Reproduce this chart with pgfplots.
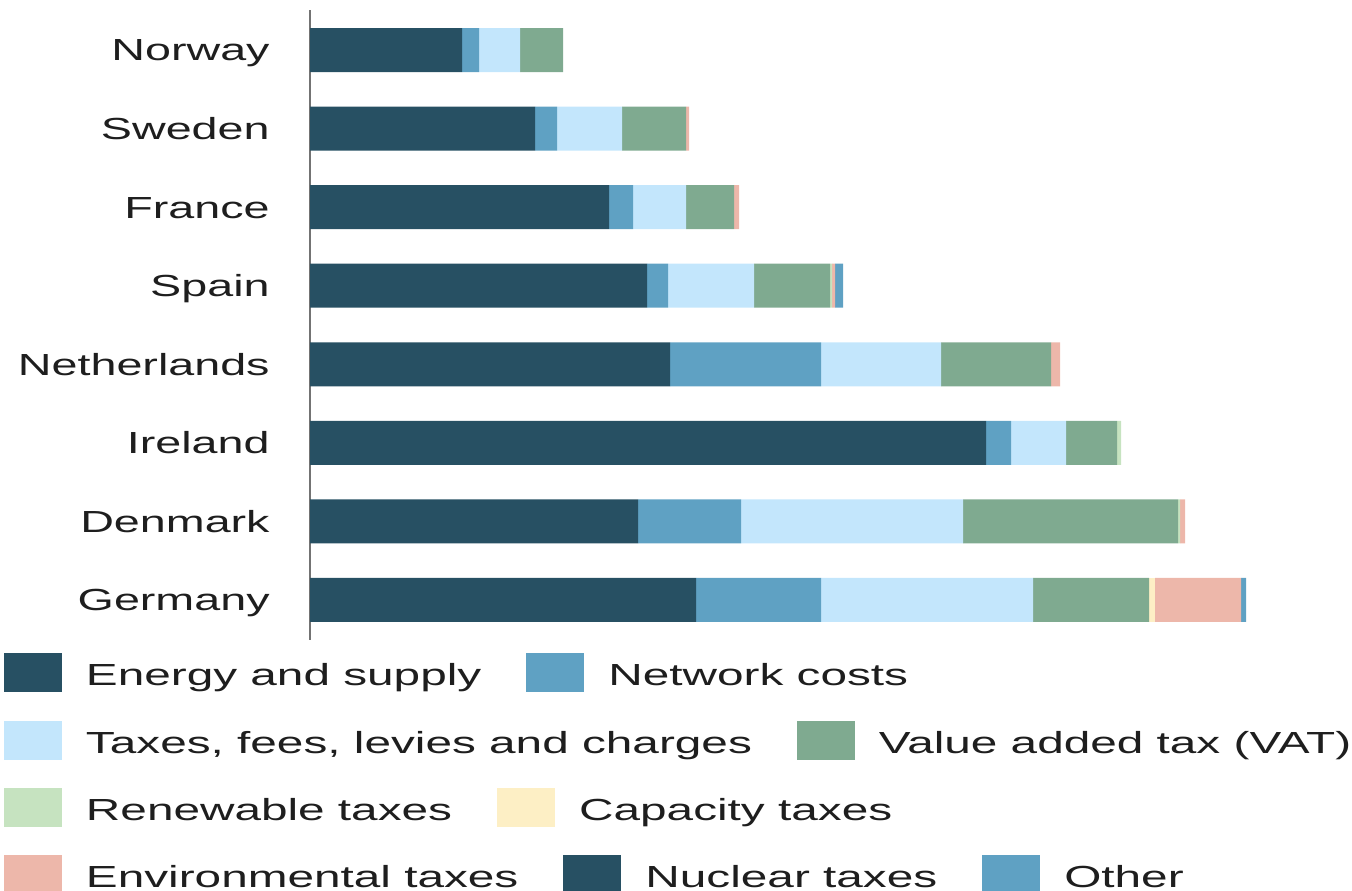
\documentclass[border=0pt]{standalone}
\usepackage{pgfplots}
\usepackage{pgfplotstable}
\pgfplotsset{compat=1.18}
\usepackage{fontspec}
\setmainfont[FakeStretch=1.53]{Liberation Sans}
\newfontfamily\legfont[FakeStretch=1.565]{Liberation Sans}
\definecolor{cE}{HTML}{275063}
\definecolor{cN}{HTML}{5FA1C3}
\definecolor{cT}{HTML}{C3E6FC}
\definecolor{cV}{HTML}{7FAA90}
\definecolor{cR}{HTML}{C6E3C0}
\definecolor{cC}{HTML}{FDEFC5}
\definecolor{cEnv}{HTML}{EDB7AA}
\definecolor{cNu}{HTML}{275063}
\definecolor{cO}{HTML}{5FA1C3}
\definecolor{txt}{HTML}{1E1E1E}
\pgfplotstableread{
y E N T V R C Env Nu O
0 152 17 41 43 0 0 0 0 0
1 225 22 65 64 0 0 3 0 0
2 299 24 53 48 0 0 5 0 0
3 337 21 86 76 2 0 3 0 8
4 360 151 120 110 0 0 9 0 0
5 676 25 55 51 4 0 0 0 0
6 328 103 222 215 2 0 5 0 0
7 386 125 212 116 0 6 86 0 5
}\data
\pgfplotsset{legrow/.style={hide axis, scale only axis, width=1pt, height=1pt,
  xmin=0,xmax=1,ymin=0,ymax=1, anchor=south west, legend columns=-1,
  legend style={at={(0,0)}, anchor=west, draw=none, fill=none, inner sep=0pt, outer sep=0pt,
    font=\legfont\fontsize{15.25}{18}\selectfont, text=txt,
    nodes={inner sep=0pt, outer sep=0pt},
    /tikz/every odd column/.append style={column sep=12pt},
    /tikz/every even column/.append style={column sep=22.5pt}},
  legend image code/.code={\fill[##1, draw=none] (0pt,-8pt) rectangle (29pt,11.5pt);}}}
\begin{document}
\begin{tikzpicture}
\path[use as bounding box] (0,0) rectangle (676pt,-445pt);
\clip (0,0) rectangle (676pt,-445pt);
\begin{axis}[
 at={(155pt,-320pt)}, anchor=south west,
 scale only axis, width=470pt, height=315pt,
 xbar stacked, bar width=22pt,
 xmin=0, xmax=940, ymin=-0.51, ymax=7.51, y dir=reverse,
 axis x line=none, axis y line*=left,
 axis line style={draw=black!55, line width=1.2pt},
 ytick={0,...,7},
 yticklabels={Norway,Sweden,France,Spain,Netherlands,Ireland,Denmark,Germany},
 major tick length=0pt,
 yticklabel style={font=\fontsize{15.25}{18}\selectfont, anchor=base east, inner sep=0pt,
   xshift=-20pt, yshift=-5.45pt, text=txt},
 clip=false,
]
\addplot[fill=cE, draw=none] table[x=E, y=y]{\data};
\addplot[fill=cN, draw=none] table[x=N, y=y]{\data};
\addplot[fill=cT, draw=none] table[x=T, y=y]{\data};
\addplot[fill=cV, draw=none] table[x=V, y=y]{\data};
\addplot[fill=cR, draw=none] table[x=R, y=y]{\data};
\addplot[fill=cC, draw=none] table[x=C, y=y]{\data};
\addplot[fill=cEnv, draw=none] table[x=Env, y=y]{\data};
\addplot[fill=cNu, draw=none] table[x=Nu, y=y]{\data};
\addplot[fill=cO, draw=none] table[x=O, y=y]{\data};
\end{axis}
\begin{axis}[legrow, at={(2pt,-336.25pt)}]
\addlegendimage{fill=cE}\addlegendentry{Energy and supply}
\addlegendimage{fill=cN}\addlegendentry{Network costs}
\end{axis}
\begin{axis}[legrow, at={(2pt,-370pt)}]
\addlegendimage{fill=cT}\addlegendentry{Taxes, fees, levies and charges}
\addlegendimage{fill=cV}\addlegendentry{Value added tax (VAT)}
\end{axis}
\begin{axis}[legrow, at={(2pt,-403.5pt)}]
\addlegendimage{fill=cR}\addlegendentry{Renewable taxes}
\addlegendimage{fill=cC}\addlegendentry{Capacity taxes}
\end{axis}
\begin{axis}[legrow, at={(2pt,-437pt)}]
\addlegendimage{fill=cEnv}\addlegendentry{Environmental taxes}
\addlegendimage{fill=cNu}\addlegendentry{Nuclear taxes}
\addlegendimage{fill=cO}\addlegendentry{Other}
\end{axis}
\end{tikzpicture}
\end{document}
